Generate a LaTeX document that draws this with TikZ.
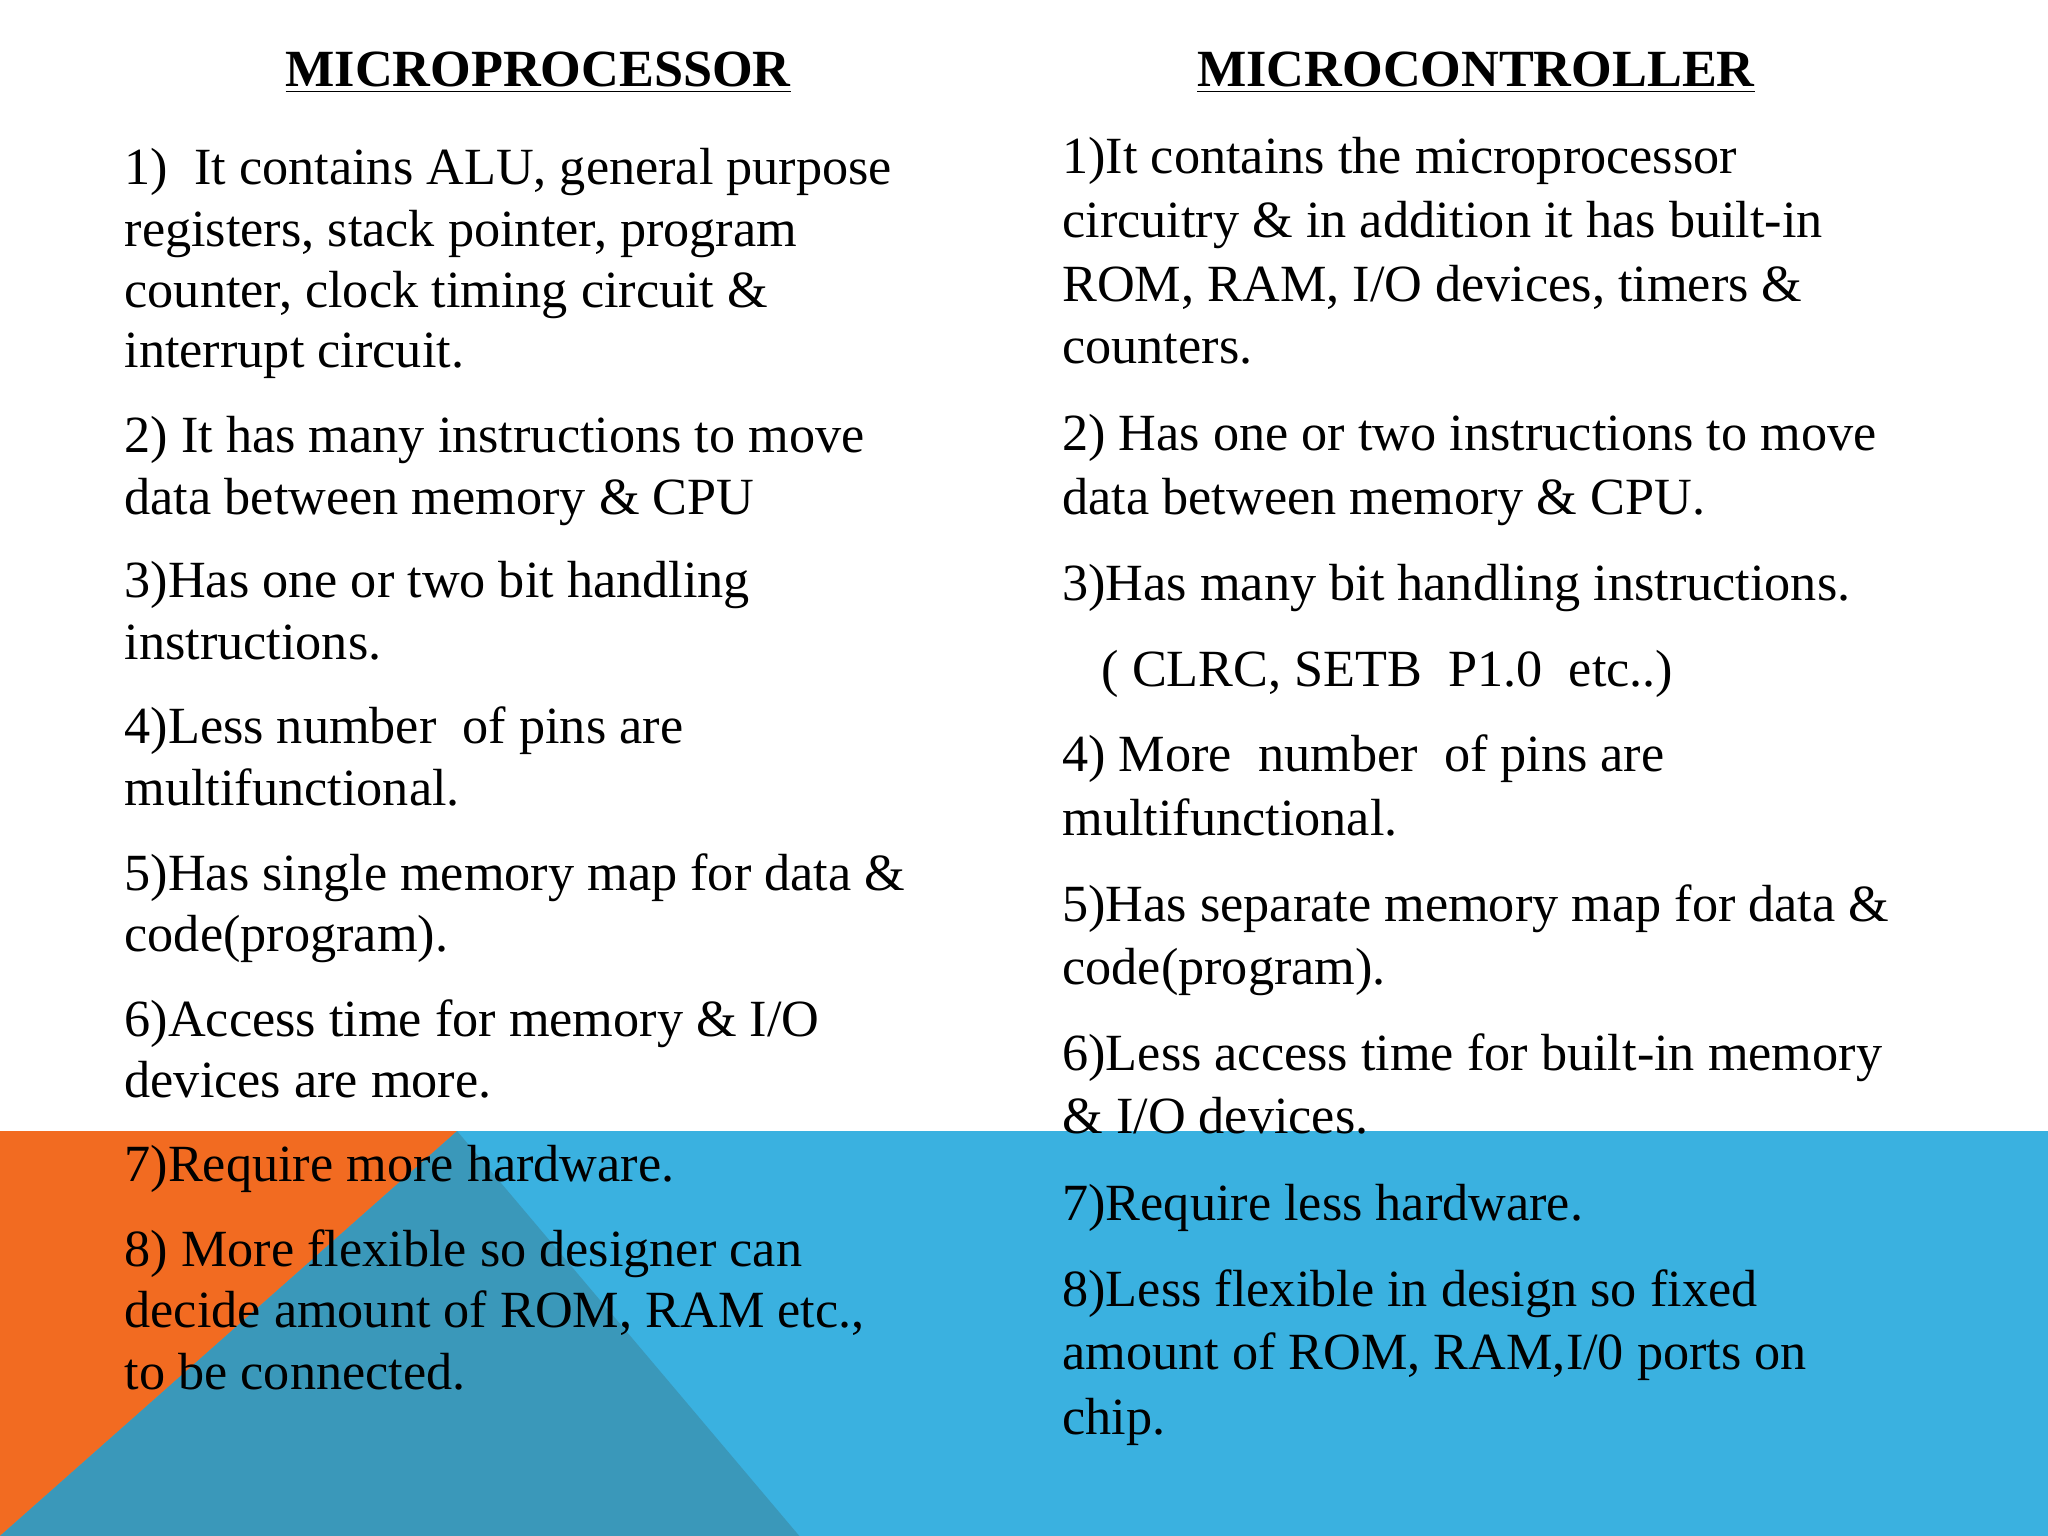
\documentclass[tikz,border=0pt]{standalone}
\usepackage{fontspec}
\setmainfont{Liberation Serif}
\definecolor{bandblue}{HTML}{3AB1E0}
\definecolor{orng}{HTML}{F26B21}
\definecolor{darkteal}{HTML}{3A98BA}
\begin{document}
\begin{tikzpicture}[x=0.5pt,y=-0.5pt,
  txt/.style={anchor=mid west,inner sep=0pt,font=\fontsize{20}{24}\selectfont},
  ttl/.style={anchor=mid,inner sep=0pt,font=\fontsize{20}{24}\selectfont\bfseries}]
\useasboundingbox (0,0) rectangle (1568,1176);
\fill[white] (0,0) rectangle (1568,1176);
\fill[bandblue] (0,866) rectangle (1568,1176);
\fill[orng] (0,866) -- (350,866) -- (0,1176) -- cycle;
\fill[darkteal] (350,866) -- (612,1176) -- (0,1176) -- cycle;
\node[ttl] (t1) at (412,62) {\underline{MICROPROCESSOR}};
\node[ttl] (t2) at (1130,62) {\underline{MICROCONTROLLER}};
\foreach \y/\s [count=\i] in {
137/{1)\ \ It contains ALU, general purpose},
184/{registers, stack pointer, program},
231/{counter, clock timing circuit \&},
277/{interrupt circuit.},
342/{2) It has many instructions to move},
389/{data between memory \& CPU},
453/{3)Has one or two bit handling},
500/{instructions.},
565/{4)Less number\ \ of pins are},
612/{multifunctional.},
677/{5)Has single memory map for data \&},
724/{code(program).},
789/{6)Access time for memory \& I/O},
836/{devices are more.},
900/{7)Require more hardware.},
965/{8) More flexible so designer can},
1012/{decide amount of ROM, RAM etc.,},
1059/{to be connected.}}
  \node[txt] (l\i) at (95,\y) {\s};
\foreach \y/\s [count=\i] in {
128/{1)It contains the microprocessor},
177/{circuitry \& in addition it has built-in},
226/{ROM, RAM, I/O devices, timers \&},
274/{counters.},
340/{2) Has one or two instructions to move},
389/{data between memory \& CPU.},
455/{3)Has many bit handling instructions.},
521/{\ \ \ ( CLRC, SETB\ \ P1.0\ \ etc..)},
586/{4) More\ \ number\ \ of pins are},
635/{multifunctional.},
701/{5)Has separate memory map for data \&},
749/{code(program).},
815/{6)Less access time for built-in memory},
863/{\& I/O devices.},
930/{7)Require less hardware.},
996/{8)Less flexible in design so fixed},
1044/{amount of ROM, RAM,I/0 ports on},
1094/{chip.}}
  \node[txt] (r\i) at (813,\y) {\s};
\end{tikzpicture}
\end{document}
